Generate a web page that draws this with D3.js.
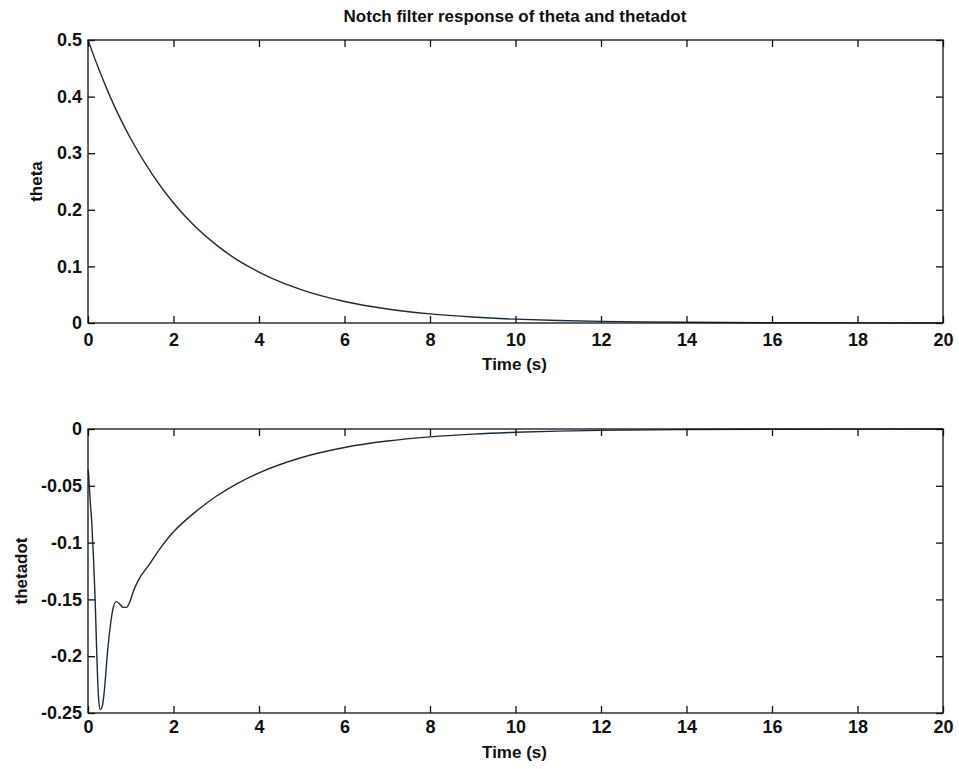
<!DOCTYPE html>
<html>
<head>
<meta charset="utf-8">
<script src="https://cdn.jsdelivr.net/npm/d3@7"></script>
<style>
  html, body { margin: 0; padding: 0; background: #fff; }
  svg { display: block; }
  text { font-family: "Liberation Sans", Arial, Helvetica, sans-serif; font-weight: bold; fill: #111; }
</style>
</head>
<body>
<svg id="chart" width="959" height="769"></svg>
<script>
// Simulated response of the notch-filtered pendulum: angle and angular rate.
const timeTicks = [0, 2, 4, 6, 8, 10, 12, 14, 16, 18, 20];
const thetaTicks = [0, 0.1, 0.2, 0.3, 0.4, 0.5];
const thetadotTicks = [0, -0.05, -0.1, -0.15, -0.2, -0.25];
const thetadotTickLabels = ["0", "-0.05", "-0.1", "-0.15", "-0.2", "-0.25"];

const thetaTime = [0, 0.1, 0.25, 0.5, 0.75, 1, 1.5, 2, 2.5, 3, 3.5, 4, 4.5, 5, 6, 7, 8, 9, 10, 11, 12, 13, 14, 16, 18, 20];
const thetaValue = [0.5, 0.479, 0.449, 0.403, 0.362, 0.3255, 0.263, 0.212, 0.171, 0.138, 0.111, 0.090, 0.0725, 0.0585, 0.038, 0.0248, 0.0161, 0.0105, 0.0068, 0.0045, 0.0029, 0.0019, 0.0012, 0.0005, 0.0002, 0.0001];

const thetadotTime = [0, 0.01, 0.03, 0.06, 0.088, 0.11, 0.127, 0.167, 0.207, 0.247, 0.287, 0.34, 0.38, 0.46, 0.53, 0.58, 0.66, 0.74, 0.82, 0.9, 0.98, 1.06, 1.18, 1.42, 1.74, 2, 2.5, 3, 3.5, 4, 5, 6, 7, 8, 9, 10, 11, 12, 14, 16, 18, 20];
const thetadotValue = [-0.036, -0.038, -0.05, -0.068, -0.0815, -0.1, -0.112, -0.15, -0.2, -0.237, -0.247, -0.243, -0.231, -0.195, -0.171, -0.159, -0.152, -0.154, -0.157, -0.157, -0.152, -0.143, -0.133, -0.12, -0.1025, -0.0905, -0.0734, -0.0592, -0.0478, -0.0386, -0.0251, -0.0163, -0.0106, -0.0069, -0.0045, -0.0029, -0.0019, -0.0012, -0.0005, -0.0002, -0.0001, 0];

const svg = d3.select("#chart");
const axisColor = "#111";
const lineColor = "#1b2b3b";
const tickLen = 7;

svg.append("text")
  .attr("x", 515).attr("y", 22)
  .attr("text-anchor", "middle")
  .attr("font-size", 17)
  .text("Notch filter response of theta and thetadot");

function panel(opts) {
  const { left, right, top, bottom, yDomain, yTicks, yLabels, times, values,
          yTitle, yTitleX, xPad, xTitleOffset } = opts;
  const x = d3.scaleLinear().domain([0, 20]).range([left, right]);
  const y = d3.scaleLinear().domain(yDomain).range([bottom, top]);
  const g = svg.append("g");

  // data line
  g.append("path")
    .datum(times.map((t, i) => [t, values[i]]))
    .attr("fill", "none")
    .attr("stroke", lineColor)
    .attr("stroke-width", 1.4)
    .attr("stroke-linejoin", "round")
    .attr("d", d3.line().curve(d3.curveMonotoneX).x(d => x(d[0])).y(d => y(d[1])));

  // axes on all four sides with inward ticks
  const fmtY = yLabels ? (d => yLabels[yTicks.indexOf(d)]) : (d => d3.format("")(d));
  const bottomAxis = d3.axisBottom(x).tickValues(timeTicks).tickSize(-tickLen).tickPadding(xPad).tickFormat(d3.format("d"));
  const topAxis = d3.axisTop(x).tickValues(timeTicks).tickSize(-tickLen).tickFormat("");
  const leftAxis = d3.axisLeft(y).tickValues(yTicks).tickSize(-tickLen).tickPadding(6).tickFormat(fmtY);
  const rightAxis = d3.axisRight(y).tickValues(yTicks).tickSize(-tickLen).tickFormat("");

  const style = sel => {
    sel.selectAll("path, line").attr("stroke", axisColor).attr("stroke-width", 1.3);
    sel.selectAll("text").attr("font-size", 18).attr("fill", axisColor)
      .attr("font-family", '"Liberation Sans", Arial, sans-serif').attr("font-weight", "bold");
  };
  g.append("g").attr("transform", `translate(0,${bottom})`).call(bottomAxis).call(style);
  g.append("g").attr("transform", `translate(0,${top})`).call(topAxis).call(style);
  g.append("g").attr("transform", `translate(${left},0)`).call(leftAxis).call(style);
  g.append("g").attr("transform", `translate(${right},0)`).call(rightAxis).call(style);
  g.selectAll(".domain").attr("d", null);
  g.append("rect")
    .attr("x", left).attr("y", top).attr("width", right - left).attr("height", bottom - top)
    .attr("fill", "none").attr("stroke", axisColor).attr("stroke-width", 1.3);

  // axis titles
  g.append("text")
    .attr("x", (left + right) / 2 - 1).attr("y", bottom + xTitleOffset)
    .attr("text-anchor", "middle").attr("font-size", 17)
    .text("Time (s)");
  g.append("text")
    .attr("transform", `translate(${yTitleX},${(top + bottom) / 2}) rotate(-90)`)
    .attr("text-anchor", "middle").attr("font-size", 17)
    .text(yTitle);
}

panel({ left: 88, right: 943, top: 40, bottom: 323, yDomain: [0, 0.5],
  yTicks: thetaTicks, times: thetaTime, values: thetaValue,
  yTitle: "theta", yTitleX: 42, xPad: 10, xTitleOffset: 47 });
panel({ left: 88, right: 943, top: 429, bottom: 713, yDomain: [-0.25, 0],
  yTicks: thetadotTicks, yLabels: thetadotTickLabels, times: thetadotTime, values: thetadotValue,
  yTitle: "thetadot", yTitleX: 27, xPad: 7, xTitleOffset: 45 });
</script>
</body>
</html>
